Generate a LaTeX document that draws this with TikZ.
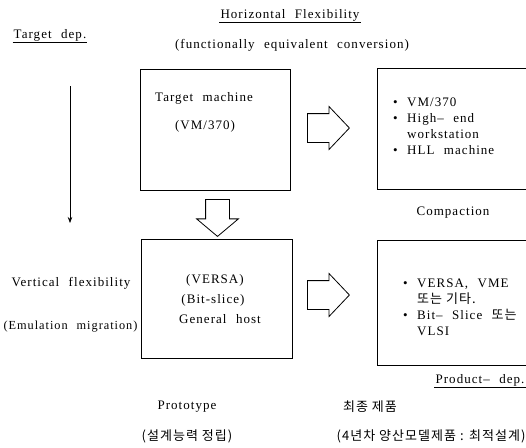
\documentclass[tikz,border=0pt]{standalone}
\usepackage{fontspec}
\setmainfont{Liberation Serif}[LetterSpace=8,WordSpace=2.2]
\newfontfamily\kor{Noto Sans CJK KR}[LetterSpace=8]
\usetikzlibrary{shapes.arrows,arrows.meta}

\begin{document}
\begin{tikzpicture}[
                x=1pt, y=-1pt,
                every node/.style={font=\fontsize{13}{16}\selectfont},
                box/.style={draw, line width=0.8pt, inner sep=0pt},
                txt/.style={inner sep=1pt},
                kortxt/.style={inner sep=1pt, font=\kor\fontsize{13}{16}\selectfont},
                uline/.style={line width=0.7pt},
                rarrow/.style={draw, line width=0.8pt, single arrow, inner sep=0pt,
                    minimum height=42pt, single arrow head extend=7pt,
                    single arrow tip angle=93, anchor=tail},
                darrow/.style={draw, line width=0.8pt, single arrow, inner sep=0pt,
                    minimum height=37pt, single arrow head extend=9pt,
                    single arrow tip angle=100, shape border rotate=270, anchor=tail}
            ]
            \useasboundingbox (0,0) rectangle (526,447);
            \clip (0,0) rectangle (526,447);

            % Headings
            \node[txt] (hflex) at (290,15) {Horizontal Flexibility};
            \draw[uline] (hflex.south west) -- (hflex.south east);
            \node[txt] (conv) at (292,45) {(functionally equivalent conversion)};
            \node[txt] (tdep) at (50,35) {Target dep.};
            \draw[uline] (tdep.south west) -- (tdep.south east);

            % Vertical arrow
            \coordinate (vtop) at (70,86);
            \coordinate (vbot) at (70,223);
            \draw[line width=0.7pt, -{Stealth[length=6pt,width=4.5pt]}] (vtop) -- (vbot);
            \node[txt] (vflex) at (71,283) {Vertical flexibility};
            \node[txt, font=\fontsize{12.3}{16}\selectfont] (emul) at (70.5,327) {(Emulation migration)};

            % Left boxes
            \node[box, minimum width=150pt, minimum height=121pt] (target) at (215,129.5) {};
            \node[txt, anchor=west] (tm) at (154,98) {Target machine};
            \node[txt] (vm) at (205,126) {(VM/370)};

            \node[box, minimum width=151pt, minimum height=119pt] (host) at (216.5,298.5) {};
            \node[txt] (versa) at (215,280) {(VERSA)};
            \node[txt] (bits) at (213,300) {(Bit-slice)};
            \node[txt] (gen) at (220,319) {General host};

            % Block arrows
            \node[rarrow] (h1) at (307,128) {\rule[-14pt]{0pt}{28pt}};
            \node[rarrow] (h2) at (307,295) {\rule[-14pt]{0pt}{28pt}};
            \node[darrow] (d1) at (217.5,199) {\rule{23pt}{0pt}};

            % Right boxes
            \node[box, minimum width=163pt, minimum height=121pt] (prod1) at (458.5,129) {};
            \node[txt, anchor=west, align=left] (list1) at (392,126)
                {• VM/370\\• High-- end\\\phantom{• }workstation\\• HLL machine};
            \node[txt] (comp) at (453,213) {Compaction};
            \node[box, minimum width=163pt, minimum height=125pt] (prod2) at (458.5,302.5) {};
            \node[txt, anchor=west, align=left] (list2) at (402,307.5)
                {• VERSA, VME\\\phantom{• }{\kor 또는 기타.}\\• Bit-- Slice {\kor 또는}\\\phantom{• }VLSI};

            % Bottom labels
            \node[txt] (pdep) at (480,380) {Product-- dep.};
            \draw[uline] (pdep.south west) -- (pdep.south east);
            \node[txt] (proto) at (187,407) {Prototype};
            \node[kortxt] (protok) at (187,436) {(설계능력 정립)};
            \node[kortxt] (final) at (370,407) {최종 제품};
            \node[kortxt] (finalk) at (431,436) {(4년차 양산모델제품 : 최적설계)};

        \end{tikzpicture}
\end{document}
